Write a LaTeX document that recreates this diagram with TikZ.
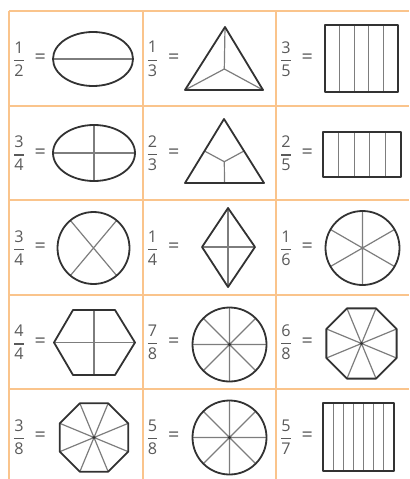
\documentclass[tikz,border=0pt]{standalone}
\usepackage{fontspec}
\setmainfont{Open Sans}
\usepackage{amsmath}
\usepackage{xcolor}
\usepackage{tikz}
\usetikzlibrary{positioning}

\definecolor{gridorange}{RGB}{250,196,140}
\definecolor{inkgray}{RGB}{50,50,50}
\definecolor{partgray}{RGB}{125,125,125}
\definecolor{textgray}{RGB}{90,90,90}

\newcommand{\frc}[2]{$\genfrac{}{}{0.32mm}{0}{\mbox{#1}}{\mbox{#2}}$}

\begin{document}
\begin{tikzpicture}[
    x=0.25mm, y=-0.25mm,
    grid/.style={draw=gridorange, line width=0.45mm},
    outline/.style={draw=inkgray, line width=0.45mm, line join=round},
    part/.style={draw=partgray, line width=0.3mm},
    frac/.style={text=textgray, font=\fontsize{11.5}{13}\selectfont, inner sep=0pt},
    eq/.style={text=textgray, font=\fontsize{14}{14}\selectfont, inner sep=0pt}
]
\useasboundingbox (0,0) rectangle (409,479);

% orange grid
\foreach \y in {11,106,200,295,389}
    \draw[grid] (9,\y) -- (409,\y);
\foreach \x in {9,143,276}
    \draw[grid] (\x,11) -- (\x,479);

% fractions
\foreach \fa/\fb [count=\i from 0] in {1/2,1/3,3/5,3/4,2/3,2/5,3/4,1/4,1/6,4/4,7/8,6/8,3/8,5/8,5/7} {
    \pgfmathtruncatemacro{\col}{mod(\i,3)}
    \pgfmathtruncatemacro{\row}{div(\i,3)}
    \node[frac] (f\i) at ({19+133.5*\col}, {59+94.5*\row}) {\frc{\fa}{\fb}};
    \node[eq, right=2.2mm of f\i] (e\i) {=};
}

% row 1
\draw[part] (53,59) -- (133,59);
\draw[outline] (93,59) ellipse [x radius=40, y radius=27];
\draw[part] (224.3,69) -- (225,27) (224.3,69) -- (185,90) (224.3,69) -- (263,90);
\draw[outline] (225,27) -- (185,90) -- (263,90) -- cycle;
\draw[part] foreach \k in {1,...,4} {({325+73*\k/5},25) -- ({325+73*\k/5},92)};
\draw[outline] (325,25) rectangle (398,92);

% row 2
\draw[part] (53,153) -- (135,153) (94,125) -- (94,181);
\draw[outline] (94,153) ellipse [x radius=41, y radius=28];
\draw[part] (224.3,161.7) -- (224.5,183) (224.3,161.7) -- (204.5,151) (224.3,161.7) -- (244,151);
\draw[outline] (224,119) -- (185,183) -- (264,183) -- cycle;
\draw[part] foreach \k in {1,...,4} {({323+78*\k/5},132) -- ({323+78*\k/5},177)};
\draw[outline] (323,132) rectangle (401,177);

% row 3
\draw[part] (93.5,248) +(50:36) -- +(230:36) +(130:36) -- +(310:36);
\draw[outline] (93.5,248) circle [radius=36];
\draw[part] (228,208) -- (228,287) (202,247) -- (255,247);
\draw[outline] (228,208) -- (255,247) -- (228,287) -- (202,247) -- cycle;
\draw[part] foreach \a in {30,90,150} {(362.5,248) +(\a:37) -- +(\a+180:37)};
\draw[outline] (362.5,248) circle [radius=37];

% row 4
\draw[part] (54,342.5) -- (135,342.5) (94,310) -- (94,375);
\draw[outline] (54,342.5) -- (73,310) -- (115,310) -- (135,342.5) -- (115,375) -- (73,375) -- cycle;
\draw[part] foreach \a in {0,45,90,135} {(229.5,344.5) +(\a:37) -- +(\a+180:37)};
\draw[outline] (229.5,344.5) circle [radius=37];
\fill[inkgray] (229.5,344.5) circle [radius=1.6];
\draw[part] foreach \a in {22.5,67.5,112.5,157.5} {(361.5,343.5) +(\a:38) -- +(\a+180:38)};
\draw[outline] (361.5,343.5) +(22.5:38) foreach \a in {67.5,112.5,...,337.5} {-- +(\a:38)} -- cycle;
\fill[inkgray] (361.5,343.5) circle [radius=1.6];

% row 5
\draw[part] foreach \a in {22.5,67.5,112.5,157.5} {(94,437.5) +(\a:37) -- +(\a+180:37)};
\draw[outline] (94,437.5) +(22.5:37) foreach \a in {67.5,112.5,...,337.5} {-- +(\a:37)} -- cycle;
\fill[inkgray] (94,437.5) circle [radius=1.6];
\draw[part] foreach \a in {0,45,90,135} {(229.5,437.5) +(\a:37) -- +(\a+180:37)};
\draw[outline] (229.5,437.5) circle [radius=37];
\fill[inkgray] (229.5,437.5) circle [radius=1.6];
\draw[part] foreach \k in {1,...,6} {({323+71*\k/7},403) -- ({323+71*\k/7},471)};
\draw[outline] (323,403) rectangle (394,471);
\end{tikzpicture}
\end{document}
